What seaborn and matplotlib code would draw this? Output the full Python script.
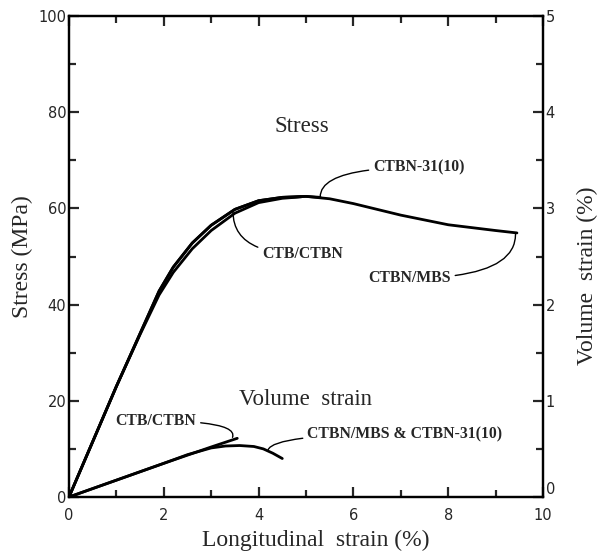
import numpy as np
import pandas as pd
import seaborn as sns
import matplotlib.pyplot as plt
from matplotlib.ticker import MultipleLocator

# --- stress-strain curves ---
mbs_x = [0, 0.5, 1.0, 1.5, 1.9, 2.2, 2.6, 3.0, 3.5, 4.0, 4.5, 5.0, 5.5, 6.0, 7.0, 8.0, 9.0, 9.45]
mbs_y = [0, 11.5, 23.0, 34.0, 42.8, 47.8, 52.8, 56.5, 59.8, 61.6, 62.3, 62.5, 62.0, 61.0, 58.6, 56.6, 55.4, 54.9]

ctb_x = [0, 0.5, 1.0, 1.5, 1.9, 2.2, 2.6, 3.0, 3.5, 4.0, 4.5, 4.9]
ctb_y = [0, 11.5, 23.0, 33.8, 42.0, 46.7, 51.6, 55.4, 59.0, 61.2, 62.1, 62.4]

c31_x = [0, 0.5, 1.0, 1.5, 1.9, 2.2, 2.6, 3.0, 3.5, 4.0, 4.5, 5.0, 5.3]
c31_y = [0, 11.5, 23.0, 34.0, 42.8, 47.8, 52.8, 56.5, 59.8, 61.6, 62.3, 62.5, 62.3]

# --- volume strain curves (%) ---
vol_ctb_x = [0, 1.0, 2.0, 3.0, 3.55]
vol_ctb_y = [0, 0.175, 0.35, 0.52, 0.61]

vol_mbs_x = [0, 1.0, 2.0, 2.5, 3.0, 3.3, 3.6, 3.9, 4.1, 4.3, 4.5]
vol_mbs_y = [0, 0.175, 0.35, 0.44, 0.51, 0.53, 0.535, 0.525, 0.50, 0.455, 0.40]

sns.set_style('ticks')
plt.rcParams['font.family'] = ['DejaVu Sans']

fig = plt.figure(figsize=(6.01, 5.54), dpi=100)
ax = fig.add_axes([0.1148, 0.1029, 0.7887, 0.8682])
ax2 = ax.twinx()

lw = 2.0
for xs, ys in [(mbs_x, mbs_y), (ctb_x, ctb_y), (c31_x, c31_y)]:
    df = pd.DataFrame({'x': xs, 'y': ys})
    sns.lineplot(data=df, x='x', y='y', ax=ax, color='black', lw=lw, sort=False)

for xs, ys in [(vol_ctb_x, vol_ctb_y), (vol_mbs_x, vol_mbs_y)]:
    df = pd.DataFrame({'x': xs, 'y': ys})
    sns.lineplot(data=df, x='x', y='y', ax=ax2, color='black', lw=lw, sort=False)

ax.set_xlim(0, 10)
ax.set_ylim(0, 100)
ax2.set_ylim(0, 5)

ax.xaxis.set_major_locator(MultipleLocator(2))
ax.xaxis.set_minor_locator(MultipleLocator(1))
ax.yaxis.set_major_locator(MultipleLocator(20))
ax.yaxis.set_minor_locator(MultipleLocator(10))
ax2.yaxis.set_major_locator(MultipleLocator(1))
ax2.yaxis.set_minor_locator(MultipleLocator(0.5))

for a in (ax, ax2):
    for s in a.spines.values():
        s.set_visible(True)
        s.set_linewidth(1.6)
        s.set_color('black')

ax.tick_params(which='both', direction='in', top=True, right=False, width=1.6,
               labelsize=10.5, pad=2)
ax.tick_params(axis='x', pad=8)
ax.tick_params(which='major', length=7)
ax.tick_params(which='minor', length=5)
ax2.tick_params(which='both', direction='in', width=1.6, labelsize=10.5, pad=2)
ax2.tick_params(which='major', length=7)
ax2.tick_params(which='minor', length=5)

serif = ['Liberation Serif', 'DejaVu Serif']
ax.set_xlabel('Longitudinal  strain (%)', family=serif, fontsize=17)
ax.set_ylabel('Stress (MPa)', family=serif, fontsize=17)
ax2.set_ylabel('Volume  strain (%)', family=serif, fontsize=17)
ax.xaxis.set_label_coords(0.52, -0.068)
ax.yaxis.set_label_coords(-0.076, 0.5)
ax2.yaxis.set_label_coords(1.072, 0.46)

# right-axis "0" sits just above the x-axis line, clear of the "10"
fig.canvas.draw()
for lab in ax2.get_yticklabels():
    if lab.get_text() == '0':
        lab.set_va('bottom')

# --- text labels ---
ax.text(4.92, 77, 'Stress', family=serif, fontsize=16.5, ha='center', va='center')
ax.text(4.98, 20.2, 'Volume  strain', family=serif, fontsize=16.5, ha='center', va='center')

bold = dict(family=serif, fontsize=11.3, fontweight='bold', va='center')

def hook(angle_b=90):
    return dict(arrowstyle='-', color='black', lw=1.0, shrinkA=1, shrinkB=0,
                connectionstyle=f'angle3,angleA=0,angleB={angle_b}')

ax.annotate('CTBN-31(10)', xy=(5.3, 62.4), xytext=(6.42, 68.5), ha='left', **bold,
            arrowprops=hook())
ax.annotate('CTB/CTBN', xy=(3.46, 59.3), xytext=(4.08, 50.5), ha='left', **bold,
            arrowprops=hook())
ax.annotate('CTBN/MBS', xy=(9.42, 54.6), xytext=(8.05, 45.5), ha='right', **bold,
            arrowprops=hook())
ax.annotate('CTB/CTBN', xy=(3.45, 12.4), xytext=(2.68, 15.8), ha='right', **bold,
            arrowprops=hook(70))
ax.annotate('CTBN/MBS & CTBN-31(10)', xy=(4.2, 9.8), xytext=(5.03, 13.1), ha='left', **bold,
            arrowprops=hook(70))

fig.savefig('out.png', dpi=100)
